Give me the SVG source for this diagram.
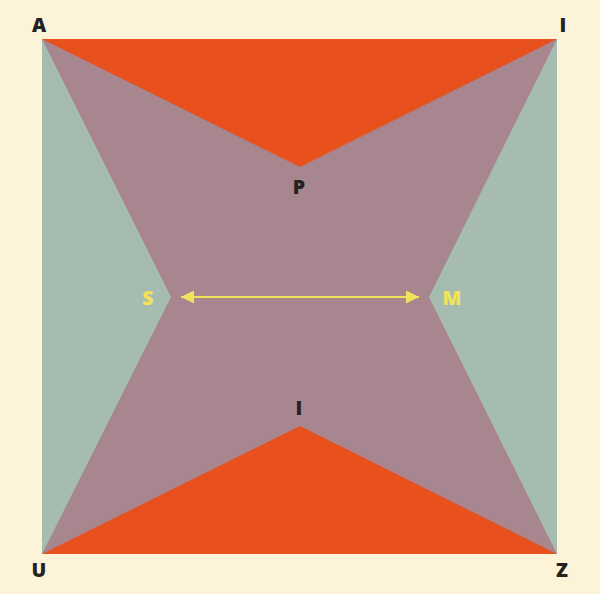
<svg xmlns="http://www.w3.org/2000/svg" width="600" height="594" viewBox="0 0 600 594">
<defs>
<style>
.lbl{font-family:"Open Sans","Liberation Sans",sans-serif;font-weight:800;font-size:19.5px;text-anchor:middle;fill:#222222}
.ylw{fill:#F2E35A}
.conn{stroke:#F2E35A;stroke-width:2;fill:none}
</style>
<marker id="ah" viewBox="0 0 10 10" refX="10" refY="5" markerWidth="6.5" markerHeight="6.5" orient="auto-start-reverse" markerUnits="strokeWidth">
<path d="M0,0 L10,5 L0,10 Z" fill="#F2E35A"/>
</marker>
</defs>
<rect width="600" height="594" fill="#FDF3D8"/>
<g id="square">
<rect x="42" y="39" width="515" height="515" fill="#A6BCB1"/>
<polygon points="42,39 557,39 429,297 557,554 42,554 171,297" fill="#A7868F"/>
<polygon points="42,39 557,39 300,167" fill="#E8501E"/>
<polygon points="42,554 557,554 300,426" fill="#E8501E"/>
</g>
<g id="node-A"><text class="lbl" x="39" y="32">A</text></g>
<g id="node-I-top"><text class="lbl" x="563" y="32">I</text></g>
<g id="node-P"><text class="lbl" x="299" y="194">P</text></g>
<g id="node-I-mid"><text class="lbl" x="299" y="415">I</text></g>
<g id="node-S"><text class="lbl ylw" x="148" y="305">S</text></g>
<g id="node-M"><text class="lbl ylw" x="452" y="305">M</text></g>
<g id="node-U"><text class="lbl" x="39" y="577">U</text></g>
<g id="node-Z"><text class="lbl" x="562" y="577">Z</text></g>
<g id="connectors">
<line class="conn" x1="181" y1="297" x2="419" y2="297" marker-start="url(#ah)" marker-end="url(#ah)"/>
</g>
</svg>
